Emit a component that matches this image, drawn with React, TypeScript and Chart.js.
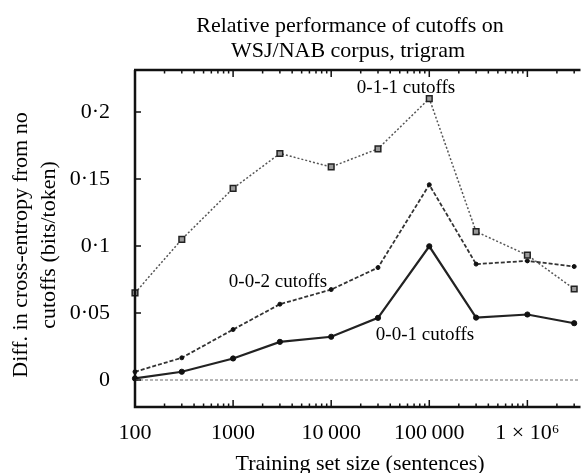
import React, { useEffect, useRef } from 'react';
import { Chart, registerables } from 'chart.js';

Chart.register(...registerables);

const trainingSizes = [100, 300, 1000, 3000, 10000, 30000, 100000, 300000, 1000000, 3000000];
const cutoffs011 = [0.065, 0.105, 0.143, 0.169, 0.159, 0.1725, 0.21, 0.1107, 0.0932, 0.0679];
const cutoffs002 = [0.0062, 0.0166, 0.0377, 0.0566, 0.0675, 0.0839, 0.1457, 0.0865, 0.0889, 0.0847];
const cutoffs001 = [0.0012, 0.0062, 0.0161, 0.0285, 0.0323, 0.0464, 0.0998, 0.0466, 0.0489, 0.0424];
const zeroLine = [0, 0];

const yTickValues = [0, 0.05, 0.1, 0.15, 0.2];
const yTickLabels = ['0', '0·05', '0·1', '0·15', '0·2'];
const xTickValues = [100, 1000, 10000, 100000, 1000000];
const xTickLabels = ['100', '1000', '10\u2009000', '100\u2009000', '1 × 10⁶'];

const titleLines = ['Relative performance of cutoffs on', 'WSJ/NAB corpus, trigram'];
const yTitleLines = ['Diff. in cross-entropy from no', 'cutoffs (bits/token)'];
const xTitle = 'Training set size (sentences)';
const seriesNames = ['0-1-1 cutoffs', '0-0-2 cutoffs', '0-0-1 cutoffs'];

const X_MIN = 100;
const X_MAX = 3.32e6;
const Y_MIN = -0.0201;
const Y_MAX = 0.2313;

const SERIF = '"Liberation Serif", "Times New Roman", serif';

const framePlugin = {
  id: 'frame',
  afterDatasetsDraw(chart: any) {
    const { ctx, chartArea: a, scales } = chart;
    const xs = scales.x;
    const ys = scales.y;
    ctx.save();
    ctx.strokeStyle = '#111';
    ctx.lineWidth = 2.5;
    ctx.beginPath();
    ctx.moveTo(a.left, a.top);
    ctx.lineTo(a.left, a.bottom);
    ctx.lineTo(a.right + 2, a.bottom);
    ctx.moveTo(a.left - 1, a.top);
    ctx.lineTo(a.right + 2, a.top);
    ctx.stroke();

    ctx.lineWidth = 1.5;
    ctx.beginPath();
    for (let d = 100; d <= X_MAX; d *= 10) {
      for (let m = 1; m <= 9; m++) {
        const v = d * m;
        if (v > X_MAX) break;
        const px = xs.getPixelForValue(v);
        const len = m === 1 ? 7 : 3.5;
        ctx.moveTo(px, a.bottom);
        ctx.lineTo(px, a.bottom - len);
        ctx.moveTo(px, a.top);
        ctx.lineTo(px, a.top + len);
      }
    }
    for (const v of yTickValues) {
      const py = ys.getPixelForValue(v);
      ctx.moveTo(a.left, py);
      ctx.lineTo(a.left + 6, py);
    }
    ctx.stroke();
    ctx.restore();
  },
};

const textPlugin = {
  id: 'texts',
  afterDraw(chart: any) {
    const { ctx } = chart;
    ctx.save();
    ctx.fillStyle = '#000';
    ctx.textAlign = 'center';
    ctx.textBaseline = 'alphabetic';
    ctx.font = `22px ${SERIF}`;
    ctx.fillText(titleLines[0], 350, 32);
    ctx.fillText(titleLines[1], 348, 57);
    ctx.fillText(xTitle, 360, 470);

    ctx.save();
    ctx.translate(0, 245);
    ctx.rotate(-Math.PI / 2);
    ctx.textBaseline = 'middle';
    ctx.fillText(yTitleLines[0], 0, 21);
    ctx.fillText(yTitleLines[1], 0, 49);
    ctx.restore();

    ctx.font = `19px ${SERIF}`;
    ctx.fillText(seriesNames[0], 406, 93);
    ctx.fillText(seriesNames[1], 278, 287);
    ctx.fillText(seriesNames[2], 425, 340);
    ctx.restore();
  },
};

export default function App() {
  const ref = useRef<HTMLCanvasElement | null>(null);

  useEffect(() => {
    if (!ref.current) return;
    const toPts = (arr: number[]) => trainingSizes.map((x, i) => ({ x, y: arr[i] }));
    const tickFont = { family: SERIF, size: 22 };
    const chart = new Chart(ref.current, {
      type: 'line',
      data: {
        datasets: [
          {
            label: 'zero',
            data: [
              { x: X_MIN, y: zeroLine[0] },
              { x: X_MAX, y: zeroLine[1] },
            ],
            borderColor: '#b5b5b5',
            borderWidth: 2,
            borderDash: [3, 2],
            pointRadius: 0,
            clip: false,
          },
          {
            label: seriesNames[0],
            data: toPts(cutoffs011),
            borderColor: '#555',
            borderWidth: 1.5,
            borderDash: [2, 2],
            pointStyle: 'rect',
            pointRadius: 4,
            pointBorderColor: '#222',
            pointBackgroundColor: '#9a9a9a',
            pointBorderWidth: 1.5,
            clip: false,
          },
          {
            label: seriesNames[1],
            data: toPts(cutoffs002),
            borderColor: '#333',
            borderWidth: 1.8,
            borderDash: [4, 2],
            pointStyle: 'circle',
            pointRadius: 2,
            pointBorderColor: '#111',
            pointBackgroundColor: '#111',
            pointBorderWidth: 1,
            clip: false,
          },
          {
            label: seriesNames[2],
            data: toPts(cutoffs001),
            borderColor: '#222',
            borderWidth: 2.2,
            pointStyle: 'circle',
            pointRadius: 2.6,
            pointBorderColor: '#111',
            pointBackgroundColor: '#111',
            pointBorderWidth: 1,
            clip: false,
          },
        ],
      },
      options: {
        responsive: false,
        maintainAspectRatio: false,
        animation: false,
        events: [],
        layout: { padding: { top: 70, left: 0, right: 0, bottom: 0 } },
        plugins: {
          legend: { display: false },
          tooltip: { enabled: false },
          title: { display: false },
        },
        scales: {
          x: {
            type: 'logarithmic',
            min: X_MIN,
            max: X_MAX,
            grid: { display: false },
            border: { display: false },
            ticks: {
              autoSkip: false,
              maxRotation: 0,
              minRotation: 0,
              padding: 5,
              color: '#000',
              font: tickFont,
              callback: (_v: any, i: number) => xTickLabels[i],
            },
            afterBuildTicks: (s: any) => {
              s.ticks = xTickValues.map((v) => ({ value: v }));
            },
            afterFit: (s: any) => {
              s.height = 66;
              s.paddingLeft = 0;
              s.paddingRight = 0;
            },
          },
          y: {
            type: 'linear',
            min: Y_MIN,
            max: Y_MAX,
            grid: { display: false },
            border: { display: false },
            ticks: {
              autoSkip: false,
              padding: 17,
              color: '#000',
              font: tickFont,
              callback: (_v: any, i: number) => yTickLabels[i],
            },
            afterBuildTicks: (s: any) => {
              s.ticks = yTickValues.map((v) => ({ value: v }));
            },
            afterFit: (s: any) => {
              s.width = 135;
              s.paddingTop = 0;
              s.paddingBottom = 0;
            },
          },
        },
      } as any,
      plugins: [framePlugin, textPlugin],
    });
    return () => chart.destroy();
  }, []);

  return (
    <canvas
      ref={ref}
      width={584}
      height={473}
      style={{ position: 'absolute', left: 0, top: 0, display: 'block' }}
    />
  );
}
